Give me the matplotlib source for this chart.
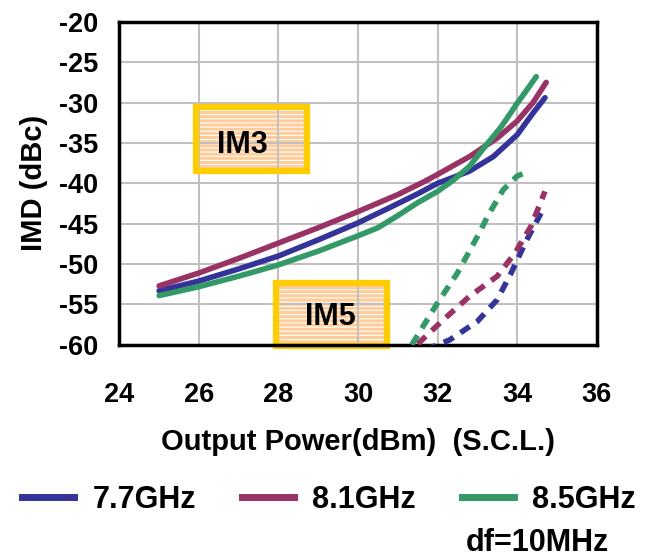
import matplotlib
matplotlib.use("Agg")
import matplotlib.pyplot as plt
from matplotlib.patches import Rectangle
from matplotlib.lines import Line2D

plt.rcParams['font.family'] = ['Liberation Sans', 'DejaVu Sans']
plt.rcParams['font.weight'] = 'bold'
plt.rcParams['axes.unicode_minus'] = False
plt.rcParams['hatch.linewidth'] = 0.8

# IM3 (solid) curves
im3_x_77 = [25.0, 26.0, 27.0, 28.0, 29.0, 30.0, 30.8, 31.5, 32.0, 32.8, 33.4, 34.0, 34.4, 34.7]
im3_y_77 = [-53.3, -52.1, -50.6, -49.0, -47.0, -44.9, -43.0, -41.3, -40.0, -38.5, -36.7, -34.0, -31.3, -29.4]
im3_x_81 = [25.0, 26.0, 27.0, 28.0, 29.0, 30.0, 31.0, 31.7, 32.0, 32.8, 33.5, 34.0, 34.4, 34.73]
im3_y_81 = [-52.7, -51.1, -49.3, -47.4, -45.5, -43.5, -41.4, -39.7, -38.9, -36.7, -34.4, -32.3, -30.0, -27.5]
im3_x_85 = [25.0, 26.0, 27.0, 28.0, 29.0, 30.0, 30.5, 31.0, 31.5, 32.0, 32.4, 32.8, 33.2, 33.6, 34.0, 34.25, 34.48]
im3_y_85 = [-53.9, -52.8, -51.5, -50.1, -48.4, -46.5, -45.5, -44.0, -42.4, -41.0, -39.6, -37.9, -35.4, -33.0, -30.1, -28.4, -26.8]

# IM5 (dashed) curves
im5_x_77 = [31.7, 32.3, 33.0, 33.5, 33.85, 34.2, 34.6]
im5_y_77 = [-60.6, -59.4, -57.1, -54.4, -51.1, -47.4, -43.7]
im5_x_81 = [31.5, 32.1, 32.8, 33.5, 33.95, 34.35, 34.7]
im5_y_81 = [-59.9, -57.1, -54.0, -51.5, -48.6, -45.3, -41.0]
im5_x_85 = [31.35, 32.0, 32.5, 33.0, 33.3, 33.65, 34.0, 34.3]
im5_y_85 = [-60.0, -54.8, -51.1, -46.6, -43.7, -40.8, -39.1, -38.5]

labels = ['7.7GHz', '8.1GHz', '8.5GHz']
colors = ['#333399', '#993366', '#339966']

x_ticks = [24, 26, 28, 30, 32, 34, 36]
y_ticks = [-60, -55, -50, -45, -40, -35, -30, -25, -20]

fig = plt.figure(figsize=(6.63, 5.58), dpi=100)
ax = fig.add_axes([0.180, 0.382, 0.720, 0.579])

im3 = [(im3_x_77, im3_y_77), (im3_x_81, im3_y_81), (im3_x_85, im3_y_85)]
im5 = [(im5_x_77, im5_y_77), (im5_x_81, im5_y_81), (im5_x_85, im5_y_85)]

for (x, y), c in zip(im3, colors):
    ax.plot(x, y, color=c, lw=4, solid_capstyle='round', solid_joinstyle='round', zorder=3)
for (x, y), c in zip(im5, colors):
    ax.plot(x, y, color=c, lw=4, dashes=(2, 1.5), dash_capstyle='butt', zorder=3)

# label boxes
def label_box(x0, y0, x1, y1, txt, tx, ty):
    ax.add_patch(Rectangle((x0, y0), x1 - x0, y1 - y0, facecolor='#FFCC99',
                           edgecolor='white', lw=0, hatch='----', zorder=1, clip_on=False))
    ax.add_patch(Rectangle((x0, y0), x1 - x0, y1 - y0, facecolor='none',
                           edgecolor='#FFCC00', lw=4.5, zorder=2.5, clip_on=False))
    ax.text(tx, ty, txt, fontsize=22, fontweight='bold', ha='center', va='center', zorder=4)

label_box(25.92, -38.5, 28.72, -30.6, 'IM3', 27.1, -35.2)
label_box(27.93, -60.2, 30.72, -52.4, 'IM5', 29.3, -56.6)

ax.set_xlim(24, 36)
ax.set_ylim(-60, -20)
ax.set_xticks(x_ticks)
ax.set_yticks(y_ticks)
ax.grid(True, color='#C0C0C0', lw=1.5)
ax.tick_params(axis='both', length=0, labelsize=19.5)
ax.tick_params(axis='x', pad=27)
ax.tick_params(axis='y', pad=15)
for s in ax.spines.values():
    s.set_linewidth(2.5)
    s.set_color('black')
    s.set_zorder(2.6)

ax.set_xlabel('Output Power(dBm)  (S.C.L.)', fontsize=21, fontweight='bold', labelpad=14)
ax.set_ylabel('IMD (dBc)', fontsize=21, fontweight='bold', labelpad=8)

handles = [Line2D([], [], color=c, lw=5) for c in colors]
fig.legend(handles, labels, loc='center', bbox_to_anchor=(0.496, 0.104), ncol=3,
           frameon=False, fontsize=22, handlelength=1.7, handletextpad=0.6,
           columnspacing=1.5)
fig.text(0.81, 0.027, 'df=10MHz', fontsize=22, fontweight='bold', ha='center', va='center')

fig.savefig('out.png', dpi=100)
